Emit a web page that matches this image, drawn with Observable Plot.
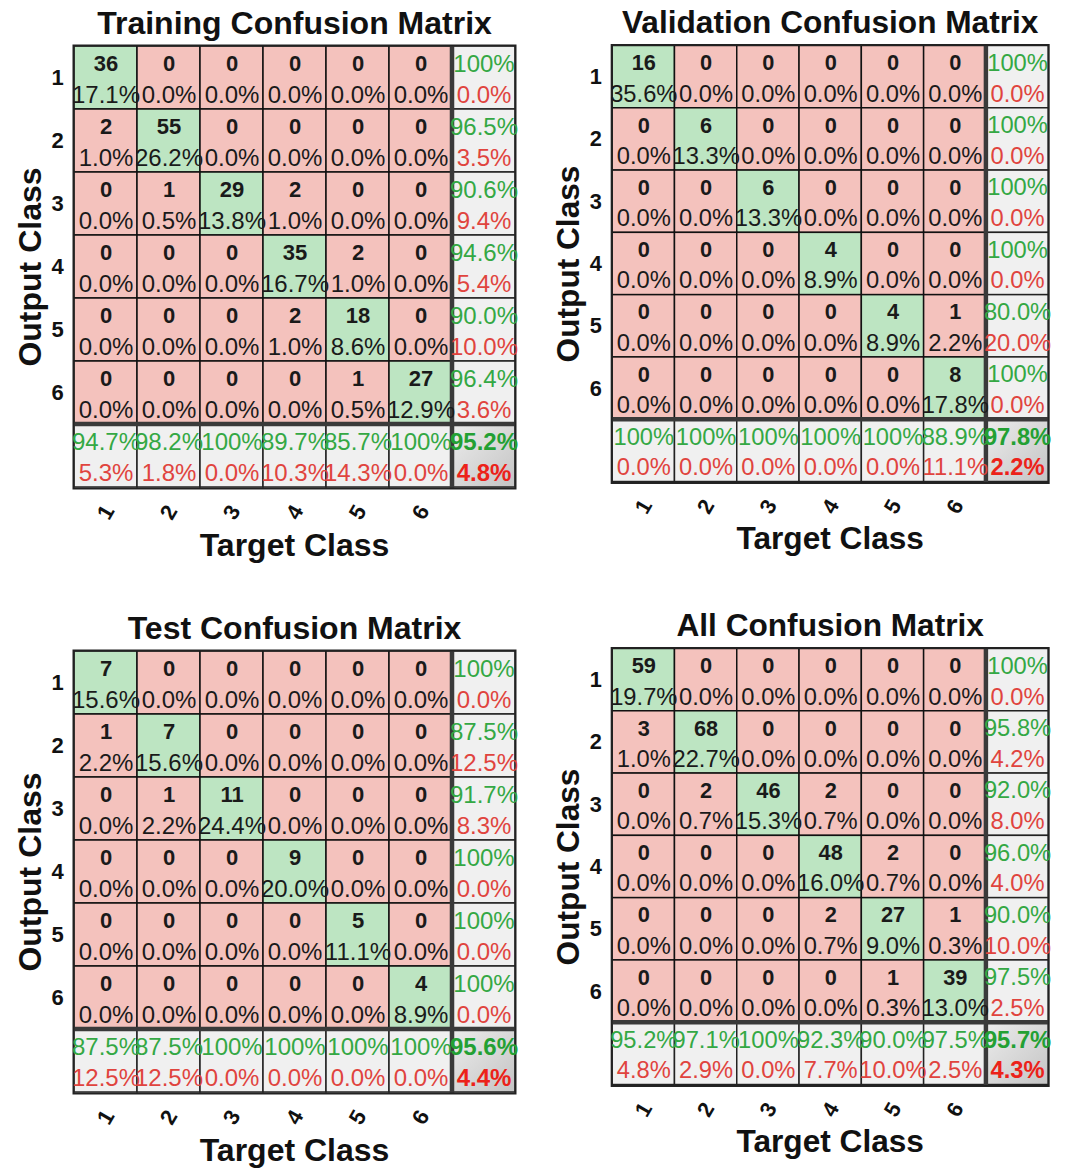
<!DOCTYPE html>
<html>
<head>
<meta charset="utf-8">
<script src="https://cdn.jsdelivr.net/npm/d3@7"></script>
<script src="https://cdn.jsdelivr.net/npm/@observablehq/plot@0.6"></script>
<style>
  html, body { margin: 0; padding: 0; background: #fff; }
  #root { position: relative; width: 1066px; height: 1171px; background: #fff; overflow: hidden; }
  .panel { position: absolute; }
</style>
</head>
<body>
<div id="root"></div>
<script>
// ---- data (rows = Output Class, columns = Target Class) ----
const classes = ["1", "2", "3", "4", "5", "6"];
const summaryKey = "S";
const panelTitles = ["Training Confusion Matrix", "Validation Confusion Matrix", "Test Confusion Matrix", "All Confusion Matrix"];
const xLabel = "Target Class";
const yLabel = "Output Class";

const trainingCounts = [
  [36, 0, 0, 0, 0, 0],
  [2, 55, 0, 0, 0, 0],
  [0, 1, 29, 2, 0, 0],
  [0, 0, 0, 35, 2, 0],
  [0, 0, 0, 2, 18, 0],
  [0, 0, 0, 0, 1, 27]
];
const validationCounts = [
  [16, 0, 0, 0, 0, 0],
  [0, 6, 0, 0, 0, 0],
  [0, 0, 6, 0, 0, 0],
  [0, 0, 0, 4, 0, 0],
  [0, 0, 0, 0, 4, 1],
  [0, 0, 0, 0, 0, 8]
];
const testCounts = [
  [7, 0, 0, 0, 0, 0],
  [1, 7, 0, 0, 0, 0],
  [0, 1, 11, 0, 0, 0],
  [0, 0, 0, 9, 0, 0],
  [0, 0, 0, 0, 5, 0],
  [0, 0, 0, 0, 0, 4]
];
const allCounts = [
  [59, 0, 0, 0, 0, 0],
  [3, 68, 0, 0, 0, 0],
  [0, 2, 46, 2, 0, 0],
  [0, 0, 0, 48, 2, 0],
  [0, 0, 0, 2, 27, 1],
  [0, 0, 0, 0, 1, 39]
];

// ---- styling ----
const COLORS = {
  diag: "#bde5c2",
  off: "#f4c2bd",
  summary: "#f0f0f0",
  good: "#34a844",
  bad: "#e0443e",
  goodStrong: "#23a033",
  badStrong: "#ec2219",
  text: "#1a1a1a"
};
const FONT = "'Liberation Sans', Arial, Helvetica, sans-serif";

function pctLabel(num, den) {
  if (den === 0) return "0.0%";
  if (num === den) return "100%";
  return (100 * num / den).toFixed(1) + "%";
}

function buildCells(counts) {
  const total = d3.sum(counts.flat());
  const main = [];
  counts.forEach((row, r) => row.forEach((v, c) => {
    main.push({x: classes[c], y: classes[r], count: String(v), pct: pctLabel(v, total), diag: r === c});
  }));
  const summary = [];
  counts.forEach((row, r) => {
    const s = d3.sum(row), d = row[r];
    summary.push({x: summaryKey, y: classes[r], good: pctLabel(d, s), bad: pctLabel(s - d, s), corner: false});
  });
  classes.forEach((_, c) => {
    const s = d3.sum(counts, row => row[c]), d = counts[c][c];
    summary.push({x: classes[c], y: summaryKey, good: pctLabel(d, s), bad: pctLabel(s - d, s), corner: false});
  });
  const diagSum = d3.sum(counts, (row, i) => row[i]);
  const corner = [{x: summaryKey, y: summaryKey, good: pctLabel(diagSum, total), bad: pctLabel(total - diagSum, total), corner: true}];
  return {main, summary, corner};
}

function gradientDefs(id) {
  return () => {
    const defs = d3.create("svg:defs");
    const lg = defs.append("linearGradient").attr("id", id)
      .attr("x1", "0").attr("y1", "0").attr("x2", "1").attr("y2", "1");
    lg.append("stop").attr("offset", "0%").attr("stop-color", "#ececec");
    lg.append("stop").attr("offset", "100%").attr("stop-color", "#c4c4c4");
    return defs.node();
  };
}

function separators() {
  return (index, scales, values, dims) => {
    const g = d3.create("svg:g");
    const xs = scales.x(summaryKey), ys = scales.y(summaryKey);
    const top = dims.marginTop, bottom = dims.height - dims.marginBottom;
    const left = dims.marginLeft, right = dims.width - dims.marginRight;
    g.append("line").attr("x1", xs).attr("x2", xs).attr("y1", top).attr("y2", bottom)
      .attr("stroke", "#3a3a3a").attr("stroke-width", 4.5);
    g.append("line").attr("x1", left).attr("x2", right).attr("y1", ys).attr("y2", ys)
      .attr("stroke", "#3a3a3a").attr("stroke-width", 4.5);
    return g.node();
  };
}

function confusionPlot(counts, title, gid) {
  const {main, summary, corner} = buildCells(counts);
  const domain = [...classes, summaryKey];
  return Plot.plot({
    width: 533,
    height: 570,
    marginLeft: 73,
    marginRight: 18,
    marginTop: 45,
    marginBottom: 82,
    style: {fontFamily: FONT, background: "transparent", overflow: "visible"},
    x: {domain, padding: 0, axis: null},
    y: {domain, padding: 0, axis: null},
    marks: [
      gradientDefs(gid),
      Plot.cell(main, {x: "x", y: "y", fill: d => d.diag ? COLORS.diag : COLORS.off, stroke: "#111", strokeWidth: 1.5, inset: 0}),
      Plot.cell(summary, {x: "x", y: "y", fill: COLORS.summary, stroke: "#222", strokeWidth: 1.5, inset: 0}),
      Plot.cell(corner, {x: "x", y: "y", fill: `url(#${gid})`, stroke: "#222", strokeWidth: 1.5, inset: 0}),
      separators(),
      Plot.frame({stroke: "#222", strokeWidth: 2}),
      Plot.text(main, {x: "x", y: "y", text: "count", dy: -14, fontSize: 22, fontWeight: "bold", fill: COLORS.text}),
      Plot.text(main, {x: "x", y: "y", text: "pct", dy: 17, fontSize: 24, fill: COLORS.text}),
      Plot.text(summary, {x: "x", y: "y", text: "good", dy: -14, fontSize: 24, fill: COLORS.good}),
      Plot.text(summary, {x: "x", y: "y", text: "bad", dy: 17, fontSize: 24, fill: COLORS.bad}),
      Plot.text(corner, {x: "x", y: "y", text: "good", dy: -14, fontSize: 24, fontWeight: "bold", fill: COLORS.goodStrong}),
      Plot.text(corner, {x: "x", y: "y", text: "bad", dy: 17, fontSize: 24, fontWeight: "bold", fill: COLORS.badStrong}),
      // tick labels
      Plot.text(classes, {y: d => d, frameAnchor: "left", textAnchor: "middle", lineAnchor: "middle", dx: -16, fontSize: 22, fontWeight: "bold", fill: "#111"}),
      Plot.text(classes, {x: d => d, frameAnchor: "bottom", textAnchor: "middle", lineAnchor: "middle", dy: 24, rotate: -60, fontSize: 22, fontWeight: "bold", fill: "#111"}),
      // axis titles and panel title
      Plot.text([yLabel], {frameAnchor: "left", textAnchor: "middle", lineAnchor: "middle", dx: -43, rotate: -90, fontSize: 32, fontWeight: "bold", fill: "#111"}),
      Plot.text([xLabel], {frameAnchor: "bottom", textAnchor: "middle", lineAnchor: "middle", dy: 57, fontSize: 32, fontWeight: "bold", fill: "#111"}),
      Plot.text([title], {frameAnchor: "top", textAnchor: "middle", lineAnchor: "middle", dy: -22, fontSize: 32, fontWeight: "bold", fill: "#111"})
    ]
  });
}

const panels = [
  {counts: trainingCounts, title: panelTitles[0], left: 0, top: 0},
  {counts: validationCounts, title: panelTitles[1], left: 539, top: 0},
  {counts: testCounts, title: panelTitles[2], left: 0, top: 605},
  {counts: allCounts, title: panelTitles[3], left: 539, top: 603}
];

const root = document.getElementById("root");
panels.forEach((p, i) => {
  const div = document.createElement("div");
  div.className = "panel";
  div.style.left = p.left + "px";
  div.style.top = p.top + "px";
  div.appendChild(confusionPlot(p.counts, p.title, "cornerGrad" + i));
  root.appendChild(div);
});
</script>
</body>
</html>
